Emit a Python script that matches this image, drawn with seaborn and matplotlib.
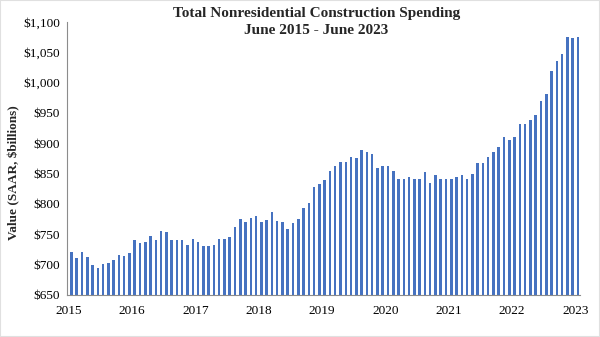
import matplotlib
matplotlib.use("Agg")
import matplotlib.pyplot as plt
from matplotlib.patches import Rectangle
import seaborn as sns
import pandas as pd

# Monthly spending, SAAR, $ billions (first bar partially hidden behind axis)
months = [d.strftime("%Y-%m") for d in pd.date_range("2015-05-01", periods=98, freq="MS")]
values = [
    707, 721, 711, 721, 712, 700, 695, 701, 702, 708, 716, 715,
    719, 740, 735, 737, 747, 741, 755, 754, 740, 740, 741, 733,
    742, 737, 731, 730, 733, 742, 743, 745, 762, 775, 770, 777,
    781, 771, 774, 786, 772, 771, 759, 769, 776, 793, 802, 828,
    833, 840, 854, 862, 870, 869, 878, 875, 889, 886, 883, 859,
    863, 863, 854, 842, 841, 844, 841, 841, 852, 835, 848, 842,
    842, 841, 845, 847, 841, 850, 867, 867, 877, 885, 894, 910,
    905, 910, 932, 932, 939, 946, 970, 981, 1019, 1035, 1047, 1076,
    1074, 1075,
]
year_labels = ["2015", "2016", "2017", "2018", "2019", "2020", "2021", "2022", "2023"]
y_ticks = [650, 700, 750, 800, 850, 900, 950, 1000, 1050, 1100]

df = pd.DataFrame({"month": months, "value": values})

sns.set_theme(style="white")
plt.rcParams["font.family"] = ["Liberation Serif", "DejaVu Serif"]

fig = plt.figure(figsize=(6.0, 3.37), dpi=100)
ax = fig.add_axes([66.7 / 600, 1 - 295 / 337, (580 - 66.7) / 600, (295 - 22) / 337])

sns.barplot(data=df, x="month", y="value", color="#4672c0", saturation=1,
            width=0.48, ax=ax, edgecolor="none")

ax.set_ylim(650, 1100)
ax.set_xlim(0.1, 97.4)
ax.set_yticks(y_ticks)
ax.set_yticklabels([f"${v:,}" for v in y_ticks], fontsize=9.5)
ax.set_xticks([0.5 + 12 * i for i in range(len(year_labels))])
ax.set_xticklabels(year_labels, fontsize=9.5)
ax.set_xlabel("")
ax.set_ylabel("Value (SAAR, $billions)", fontsize=9.5, fontweight="bold",
              va="center", ha="center")
ax.yaxis.set_label_coords(-0.102, 0.45)

for s in ["top", "right"]:
    ax.spines[s].set_visible(False)
for s in ["left", "bottom"]:
    ax.spines[s].set_color("#8c8c8c")
    ax.spines[s].set_linewidth(0.8)
ax.tick_params(axis="both", which="both", direction="out", length=3,
               width=0.8, color="#8c8c8c", pad=2, labelcolor="black")
ax.tick_params(axis="x", pad=4)

fig.text(0.527, 1 - 14 / 337, "Total Nonresidential Construction Spending",
         ha="center", va="center", fontsize=11, fontweight="bold")
fig.text(0.527, 1 - 31 / 337, "June 2015 - June 2023",
         ha="center", va="center", fontsize=11, fontweight="bold")

fig.patches.append(Rectangle((0, 0), 1, 1, transform=fig.transFigure, fill=False,
                             edgecolor="#e0e0e0", linewidth=1.5))

fig.savefig("out.png", dpi=100)
